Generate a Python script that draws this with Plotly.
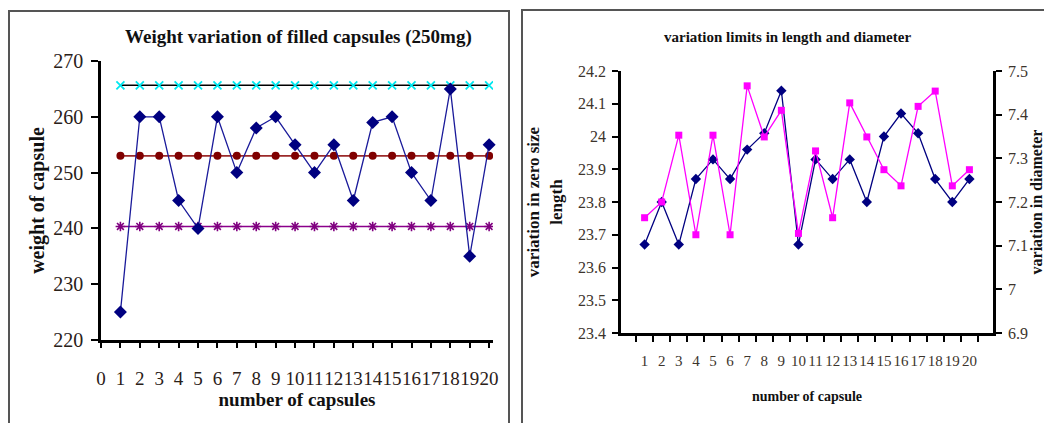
import plotly.graph_objects as go

# ---------------- data: left chart ----------------
capsule_no = [1, 2, 3, 4, 5, 6, 7, 8, 9, 10, 11, 12, 13, 14, 15, 16, 17, 18, 19, 20]
weights = [225, 260, 260, 245, 240, 260, 250, 258, 260, 255, 250, 255, 245, 259, 260, 250, 245, 265, 235, 255]
mean_weight = [253.0, 253.0, 253.0, 253.0, 253.0, 253.0, 253.0, 253.0, 253.0, 253.0,
               253.0, 253.0, 253.0, 253.0, 253.0, 253.0, 253.0, 253.0, 253.0, 253.0]
upper_limit = [265.65, 265.65, 265.65, 265.65, 265.65, 265.65, 265.65, 265.65, 265.65, 265.65,
               265.65, 265.65, 265.65, 265.65, 265.65, 265.65, 265.65, 265.65, 265.65, 265.65]
lower_limit = [240.35, 240.35, 240.35, 240.35, 240.35, 240.35, 240.35, 240.35, 240.35, 240.35,
               240.35, 240.35, 240.35, 240.35, 240.35, 240.35, 240.35, 240.35, 240.35, 240.35]
left_xticks = [0, 1, 2, 3, 4, 5, 6, 7, 8, 9, 10, 11, 12, 13, 14, 15, 16, 17, 18, 19, 20]
left_yticks = [220, 230, 240, 250, 260, 270]

# ---------------- data: right chart ----------------
capsule_cat = ["1", "2", "3", "4", "5", "6", "7", "8", "9", "10",
               "11", "12", "13", "14", "15", "16", "17", "18", "19", "20"]
length_mm = [23.67, 23.80, 23.67, 23.87, 23.93, 23.87, 23.96, 24.01, 24.14, 23.67,
             23.93, 23.87, 23.93, 23.80, 24.00, 24.07, 24.01, 23.87, 23.80, 23.87]
diameter_mm = [7.164, 7.20, 7.353, 7.125, 7.353, 7.125, 7.466, 7.349, 7.41, 7.128,
               7.317, 7.164, 7.427, 7.349, 7.274, 7.237, 7.419, 7.454, 7.237, 7.274]
length_ticks = [23.4, 23.5, 23.6, 23.7, 23.8, 23.9, 24.0, 24.1, 24.2]
length_ticktext = ["23.4", "23.5", "23.6", "23.7", "23.8", "23.9", "24", "24.1", "24.2"]
diam_ticks = [6.9, 7.0, 7.1, 7.2, 7.3, 7.4, 7.5]
diam_ticktext = ["6.9", "7", "7.1", "7.2", "7.3", "7.4", "7.5"]

# the page body has an 8px default margin, so the figure is sized to fill the rest
OFF = 8
W, H = 1052 - OFF, 423 - OFF


def px(x):
    return (x - OFF) / W


def py(y):
    return 1 - (y - OFF) / H


SERIF = "Liberation Serif, Times New Roman, serif"
NAVY = "#000080"
CYAN = "#00e8f0"

fig = go.Figure()

# ---- left chart traces ----
fig.add_trace(go.Scatter(x=capsule_no, y=upper_limit, mode="lines+markers",
                         line=dict(color="black", width=1.5),
                         marker=dict(symbol="x-thin-open", size=8, color=CYAN,
                                     line=dict(color=CYAN, width=1.8)),
                         xaxis="x", yaxis="y", showlegend=False))
fig.add_trace(go.Scatter(x=capsule_no, y=mean_weight, mode="lines+markers",
                         line=dict(color="#9b2a2a", width=1.8),
                         marker=dict(symbol="circle", size=8, color="#800000"),
                         xaxis="x", yaxis="y", showlegend=False))
fig.add_trace(go.Scatter(x=capsule_no, y=lower_limit, mode="lines+markers",
                         line=dict(color="#8b008b", width=1.5),
                         marker=dict(symbol="asterisk-open", size=8, color="#800080",
                                     line=dict(color="#800080", width=1.6)),
                         xaxis="x", yaxis="y", showlegend=False))
fig.add_trace(go.Scatter(x=capsule_no, y=weights, mode="lines+markers",
                         line=dict(color="#1a1a9a", width=1.3),
                         marker=dict(symbol="diamond", size=10, color=NAVY),
                         xaxis="x", yaxis="y", showlegend=False, cliponaxis=False))

# ---- right chart traces ----
fig.add_trace(go.Scatter(x=capsule_cat, y=diameter_mm, mode="lines+markers",
                         line=dict(color="#ff00ff", width=1.3),
                         marker=dict(symbol="square", size=7, color="#ff00ff"),
                         xaxis="x2", yaxis="y3", showlegend=False))
fig.add_trace(go.Scatter(x=capsule_cat, y=length_mm, mode="lines+markers",
                         line=dict(color=NAVY, width=1.3),
                         marker=dict(symbol="diamond", size=8, color=NAVY),
                         xaxis="x2", yaxis="y2", showlegend=False))

# plot area boxes (screen pixels)
L = dict(x0=101, x1=493, y0=61, y1=340)
R = dict(x0=621, x1=993, y0=71, y1=333)

tickfont_l = dict(family=SERIF, size=20, color="#2a2018")
tickfont_r = dict(family=SERIF, size=16, color="#3c342c")

fig.update_layout(
    width=W, height=H,
    margin=dict(l=0, r=0, t=0, b=0, autoexpand=False),
    paper_bgcolor="white", plot_bgcolor="white",
    xaxis=dict(domain=[px(L["x0"]), px(L["x1"])], anchor="y", automargin=False,
               range=[0, 20.2], tickvals=left_xticks, tickangle=0,
               showgrid=False, zeroline=False,
               showline=True, linecolor="black", linewidth=3,
               ticks="outside", ticklen=5, tickwidth=1.5, tickcolor="black",
               tickfont=dict(family=SERIF, size=19, color="#2a2018"),
               ticklabelstandoff=14,
               title=dict(text="<b>number of capsules</b>",
                          font=dict(family=SERIF, size=19, color="#111"), standoff=2)),
    yaxis=dict(domain=[py(L["y1"]), py(L["y0"])], anchor="x", automargin=False,
               range=[220, 270], tickvals=left_yticks,
               showgrid=False, zeroline=False,
               showline=True, linecolor="black", linewidth=2.5,
               ticks="outside", ticklen=7, tickwidth=2, tickcolor="black",
               tickfont=tickfont_l, ticklabelstandoff=4,
               title=dict(text="<b>weight of capsule</b>",
                          font=dict(family=SERIF, size=20, color="#111"), standoff=4)),
    xaxis2=dict(domain=[px(R["x0"]), px(R["x1"])], anchor="y2", automargin=False,
                type="category", categoryorder="array", categoryarray=capsule_cat,
                tickmode="array", tickvals=capsule_cat, ticktext=capsule_cat,
                tickson="boundaries", tickangle=0,
                showgrid=False, zeroline=False,
                showline=True, linecolor="black", linewidth=2.5,
                ticks="outside", ticklen=6, tickwidth=2, tickcolor="black",
                tickfont=dict(family=SERIF, size=15, color="#3c342c"), ticklabelstandoff=12,
                title=dict(text="<b>number of capsule</b>",
                           font=dict(family=SERIF, size=14, color="#111"), standoff=24)),
    yaxis2=dict(domain=[py(R["y1"]), py(R["y0"])], anchor="x2", automargin=False,
                range=[23.4, 24.2], tickvals=length_ticks, ticktext=length_ticktext,
                showgrid=False, zeroline=False,
                showline=True, linecolor="black", linewidth=2.5,
                ticks="outside", ticklen=6, tickwidth=2, tickcolor="black",
                tickfont=tickfont_r, ticklabelstandoff=3,
                title=dict(text="<b>variation in zero size<br>length</b>",
                           font=dict(family=SERIF, size=17, color="#111"), standoff=12)),
    yaxis3=dict(domain=[py(R["y1"]), py(R["y0"])], anchor="x2", overlaying="y2", side="right",
                automargin=False,
                range=[6.9, 7.5], tickvals=diam_ticks, ticktext=diam_ticktext,
                showgrid=False, zeroline=False,
                showline=True, linecolor="black", linewidth=2.5,
                ticks="outside", ticklen=6, tickwidth=2, tickcolor="black",
                tickfont=tickfont_r, ticklabelstandoff=3,
                title=dict(text="<b>variation in diameter</b>",
                           font=dict(family=SERIF, size=16, color="#111"), standoff=3)),
    # overlay axes giving the "inside" half of the crossing tick marks
    xaxis3=dict(domain=[px(R["x0"]), px(R["x1"])], anchor="y2", overlaying="x2", automargin=False,
                range=[0.5, 20.5], tickvals=[i + 0.5 for i in range(21)],
                showticklabels=False, showgrid=False, zeroline=False, showline=False,
                ticks="inside", ticklen=6, tickwidth=2, tickcolor="black"),
    yaxis4=dict(domain=[py(R["y1"]), py(R["y0"])], anchor="x2", overlaying="y2", side="left",
                automargin=False,
                range=[23.4, 24.2], tickvals=length_ticks,
                showticklabels=False, showgrid=False, zeroline=False, showline=False,
                ticks="inside", ticklen=6, tickwidth=2, tickcolor="black"),
    yaxis5=dict(domain=[py(R["y1"]), py(R["y0"])], anchor="x2", overlaying="y2", side="right",
                automargin=False,
                range=[6.9, 7.5], tickvals=diam_ticks,
                showticklabels=False, showgrid=False, zeroline=False, showline=False,
                ticks="inside", ticklen=6, tickwidth=2, tickcolor="black"),
    annotations=[
        dict(text="<b>Weight variation of filled capsules (250mg)</b>",
             x=px(298), y=py(37), xref="paper", yref="paper", showarrow=False,
             xanchor="center", yanchor="middle",
             font=dict(family=SERIF, size=19, color="#111")),
        dict(text="<b>variation limits in length and diameter</b>",
             x=px(787), y=py(37), xref="paper", yref="paper", showarrow=False,
             xanchor="center", yanchor="middle",
             font=dict(family=SERIF, size=15, color="#111")),
    ],
    shapes=[
        dict(type="rect", xref="paper", yref="paper",
             x0=px(9), x1=px(509), y0=-0.03, y1=py(11),
             line=dict(color="#555", width=2), fillcolor="rgba(0,0,0,0)", layer="below"),
        dict(type="rect", xref="paper", yref="paper",
             x0=px(522), x1=px(1070), y0=-0.03, y1=py(10),
             line=dict(color="#555", width=2), fillcolor="rgba(0,0,0,0)", layer="below"),
    ],
)

fig.write_html("out.html")
